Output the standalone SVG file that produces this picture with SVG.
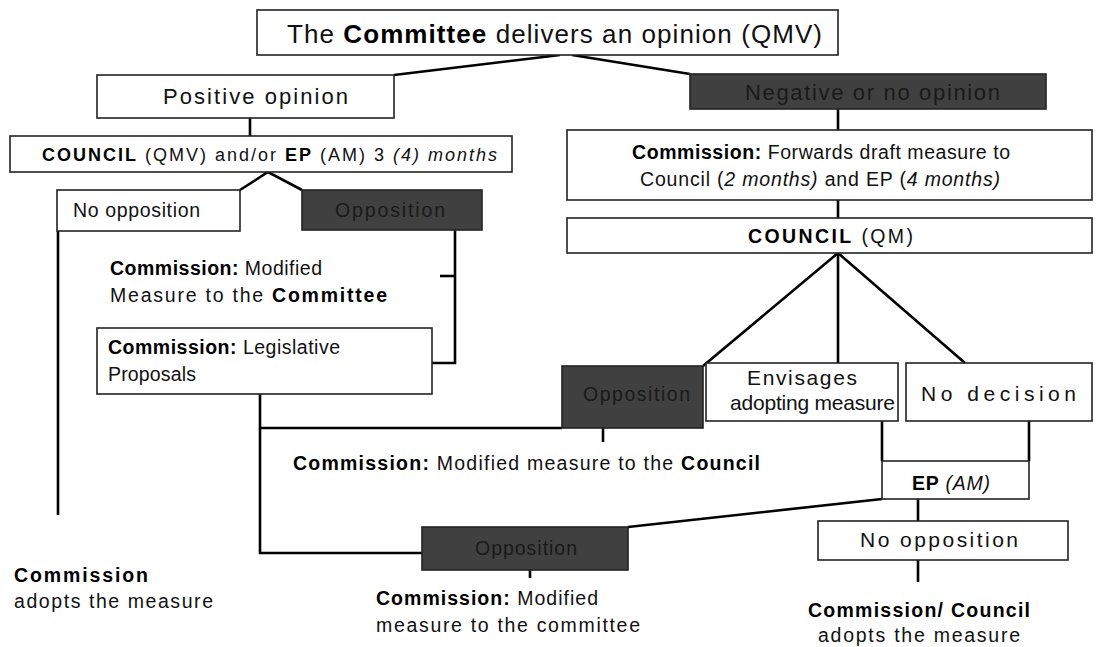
<svg xmlns="http://www.w3.org/2000/svg" width="1104" height="647" viewBox="0 0 1104 647">
<style>
  text { font-family: "Liberation Sans", Arial, sans-serif; font-size: 19.5px; fill: #111; }
  .b { font-weight: bold; fill: #000; }
  .i { font-style: italic; }
  .big { font-size: 26px; }
  .mid { font-size: 22px; }
  .lg { font-size: 21px; }
  .cap { font-size: 18px; }
  .cap2 { font-size: 19.5px; }
  .box { fill: #fff; stroke: #222; stroke-width: 1.6; }
  .dark { fill: #404040; stroke: #222; stroke-width: 1.6; }
  .dt { fill: #1a1a1a; }
  .con line, .con polyline { stroke: #000; stroke-width: 2.6; fill: none; }
</style>
<rect width="1104" height="647" fill="#fff"/>

<g class="con">
  <line x1="560" y1="55" x2="394" y2="75"/>
  <line x1="572" y1="55" x2="690" y2="74"/>
  <line x1="250" y1="118" x2="250" y2="136"/>
  <polyline points="240,190 268,172 302,190"/>
  <line x1="58" y1="231" x2="58" y2="515"/>
  <polyline points="455,226 455,363 432,363"/>
  <line x1="440" y1="276" x2="455" y2="276"/>
  <line x1="838" y1="109" x2="838" y2="130"/>
  <line x1="838" y1="200" x2="838" y2="218"/>
  <polyline points="703,366 838,253 965,363"/>
  <line x1="838" y1="253" x2="838" y2="363"/>
  <polyline points="562,428 260,428 260,394"/>
  <polyline points="260,428 260,553 422,553"/>
  <line x1="603" y1="428" x2="603" y2="442"/>
  <line x1="882" y1="421" x2="882" y2="461"/>
  <line x1="1029" y1="421" x2="1029" y2="461"/>
  <line x1="882" y1="499" x2="628" y2="527"/>
  <line x1="530" y1="570" x2="530" y2="578"/>
  <line x1="918" y1="499" x2="918" y2="521"/>
  <line x1="918" y1="560" x2="918" y2="582"/>
</g>

<g id="committee">
  <rect class="box" x="257" y="10" width="581" height="45"/>
  <text class="big" x="287" y="43" textLength="535">The <tspan class="b">Committee</tspan> delivers an opinion (QMV)</text>
</g>
<g id="positive">
  <rect class="box" x="97" y="75" width="297" height="43"/>
  <text class="mid" x="163" y="104" textLength="185">Positive opinion</text>
</g>
<g id="negative">
  <rect class="dark" x="690" y="74" width="356" height="35"/>
  <text class="mid dt" x="745" y="100" textLength="255">Negative or no opinion</text>
</g>
<g id="council-qmv">
  <rect class="box" x="10" y="136" width="502" height="36"/>
  <text class="cap" x="42" y="161" textLength="455"><tspan class="b">COUNCIL</tspan> (QMV) and/or <tspan class="b">EP</tspan> (AM) 3 <tspan class="i">(4) months</tspan></text>
</g>
<g id="commission-forwards">
  <rect class="box" x="567" y="130" width="525" height="70"/>
  <text x="632" y="159" textLength="378"><tspan class="b">Commission:</tspan> Forwards draft measure to</text>
  <text x="640" y="186" textLength="360">Council (<tspan class="i">2 months)</tspan> and EP (<tspan class="i">4 months)</tspan></text>
</g>
<g id="no-opposition-left">
  <rect class="box" x="57" y="190" width="183" height="41"/>
  <text x="73" y="217" textLength="127">No opposition</text>
</g>
<g id="opposition-left">
  <rect class="dark" x="302" y="190" width="180" height="40"/>
  <text class="dt" x="335" y="217" textLength="110">Opposition</text>
</g>
<g id="modified-committee">
  <text x="110" y="275" textLength="212"><tspan class="b">Commission:</tspan> Modified</text>
  <text x="110" y="302" textLength="277">Measure to the <tspan class="b">Committee</tspan></text>
</g>
<g id="legislative">
  <rect class="box" x="97" y="328" width="335" height="66"/>
  <text x="108" y="354" textLength="232"><tspan class="b">Commission:</tspan> Legislative</text>
  <text x="108" y="381" textLength="88">Proposals</text>
</g>
<g id="council-qm">
  <rect class="box" x="567" y="218" width="525" height="35"/>
  <text class="cap2" x="748" y="243" textLength="165"><tspan class="b">COUNCIL</tspan> (QM)</text>
</g>
<g id="opposition-mid">
  <rect class="dark" x="562" y="366" width="141" height="62"/>
  <text class="dt" x="583" y="401" textLength="107">Opposition</text>
</g>
<g id="envisages">
  <rect class="box" x="706" y="363" width="192" height="58"/>
  <text class="lg" x="747" y="385" textLength="110">Envisages</text>
  <text class="lg" x="730" y="410" textLength="165">adopting measure</text>
</g>
<g id="no-decision">
  <rect class="box" x="906" y="363" width="186" height="58"/>
  <text class="lg" x="921" y="401" textLength="155">No decision</text>
</g>
<g id="modified-council">
  <text x="293" y="470" textLength="467"><tspan class="b">Commission:</tspan> Modified measure to the <tspan class="b">Council</tspan></text>
</g>
<g id="ep-am">
  <rect class="box" x="882" y="461" width="147" height="38"/>
  <text x="912" y="490" textLength="78"><tspan class="b">EP</tspan> <tspan class="i">(AM)</tspan></text>
</g>
<g id="opposition-bottom">
  <rect class="dark" x="422" y="527" width="206" height="43"/>
  <text class="dt" x="475" y="555" textLength="102">Opposition</text>
</g>
<g id="modified-committee-2">
  <text x="376" y="605" textLength="222"><tspan class="b">Commission:</tspan> Modified</text>
  <text x="376" y="632" textLength="264">measure to the committee</text>
</g>
<g id="no-opposition-right">
  <rect class="box" x="818" y="521" width="250" height="39"/>
  <text class="lg" x="860" y="547" textLength="158">No opposition</text>
</g>
<g id="commission-adopts">
  <text x="14" y="582" textLength="134" class="b">Commission</text>
  <text x="14" y="608" textLength="199">adopts the measure</text>
</g>
<g id="commission-council-adopts">
  <text x="808" y="617" textLength="222"><tspan class="b">Commission/ Council</tspan></text>
  <text x="818" y="642" textLength="202">adopts the measure</text>
</g>
</svg>
